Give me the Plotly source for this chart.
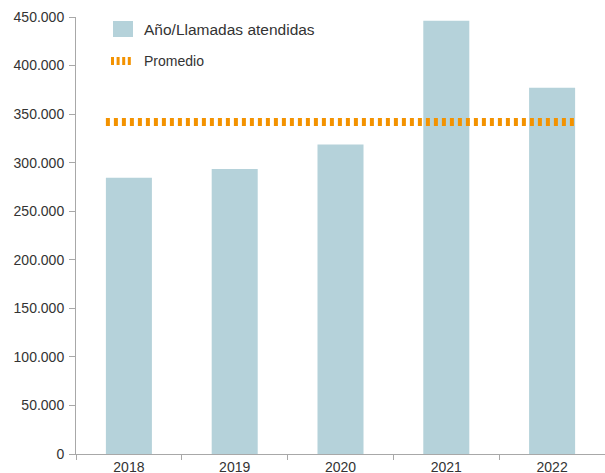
import plotly.graph_objects as go

# Calls attended per year and the average line
years = ["2018", "2019", "2020", "2021", "2022"]
llamadas = [284500, 293500, 318700, 446100, 377100]
promedio = 342000
y_ticks = [0, 50000, 100000, 150000, 200000, 250000, 300000, 350000, 400000, 450000]

BAR_COLOR = "#B5D2DA"
AVG_COLOR = "#F39200"
AXIS_COLOR = "#A8A8A8"
TEXT_COLOR = "#333333"
FONT = "Arial, Liberation Sans, Helvetica, sans-serif"

W, H = 605, 473
L, R, T, B = 76, 0, 17, 19
PW, PH = W - L - R, H - T - B
BAR_WIDTH = 0.435


def px(xp):
    return (xp - L) / PW


def py(yp):
    return (H - B - yp) / PH


fig = go.Figure()
fig.add_trace(go.Bar(
    x=years, y=llamadas, marker=dict(color=BAR_COLOR, line=dict(width=0)),
    width=BAR_WIDTH, name="Año/Llamadas atendidas", showlegend=False,
))

shapes = [
    # average line across the bars
    dict(type="line", xref="x", yref="y", layer="above",
         x0=-BAR_WIDTH / 2, x1=len(years) - 1 + BAR_WIDTH / 2,
         y0=promedio, y1=promedio,
         line=dict(color=AVG_COLOR, width=8, dash="4px,4px")),
    # legend swatch for the bars
    dict(type="rect", xref="paper", yref="paper", layer="above",
         x0=px(113), x1=px(133), y0=py(37), y1=py(21),
         fillcolor=BAR_COLOR, line=dict(width=0)),
    # legend swatch for the average
    dict(type="line", xref="paper", yref="paper", layer="above",
         x0=px(111), x1=px(131), y0=py(61), y1=py(61),
         line=dict(color=AVG_COLOR, width=8, dash="3px,2.6px")),
]

annotations = [
    dict(text="Año/Llamadas atendidas", xref="paper", yref="paper",
         x=px(142), y=py(29), xanchor="left", yanchor="middle", showarrow=False,
         font=dict(family=FONT, size=15.5, color=TEXT_COLOR)),
    dict(text="Promedio", xref="paper", yref="paper",
         x=px(142), y=py(61), xanchor="left", yanchor="middle", showarrow=False,
         font=dict(family=FONT, size=14, color=TEXT_COLOR)),
]

fig.update_layout(
    width=W, height=H,
    margin=dict(l=L, r=R, t=T, b=B, pad=0),
    paper_bgcolor="white", plot_bgcolor="white",
    separators=",.",
    bargap=1 - BAR_WIDTH,
    font=dict(family=FONT, size=14, color=TEXT_COLOR),
    shapes=shapes, annotations=annotations,
    showlegend=False,
    xaxis=dict(
        type="category", showline=True, linecolor=AXIS_COLOR, linewidth=1,
        ticks="outside", tickson="boundaries", ticklen=5, tickcolor=AXIS_COLOR,
        showgrid=False, zeroline=False, automargin=False,
        tickfont=dict(family=FONT, size=14, color=TEXT_COLOR),
    ),
    yaxis=dict(
        range=[0, 450000], tickvals=y_ticks, tickformat=",d",
        showline=True, linecolor=AXIS_COLOR, linewidth=1,
        ticks="outside", ticklen=6, tickcolor=AXIS_COLOR,
        ticklabelstandoff=2,
        showgrid=False, zeroline=False, automargin=False,
        tickfont=dict(family=FONT, size=14, color=TEXT_COLOR),
    ),
)

fig.write_html("out.html")
